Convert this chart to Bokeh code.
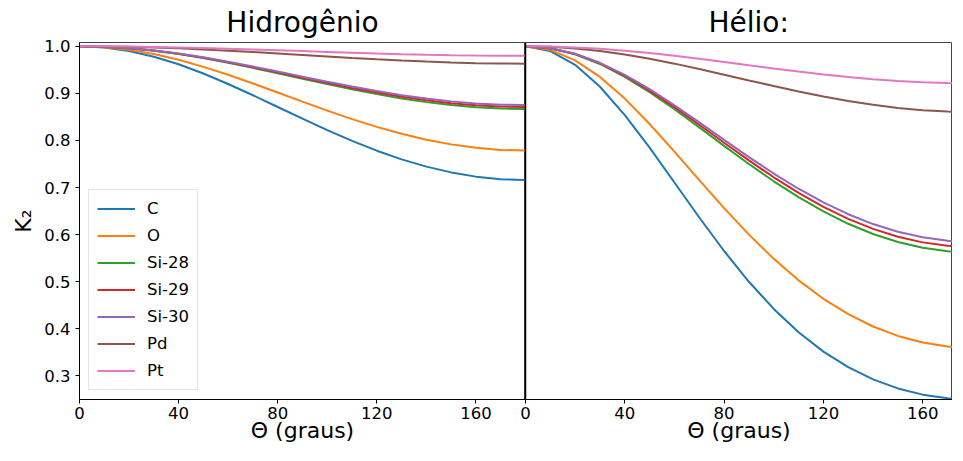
from bokeh.plotting import figure
from bokeh.models import Legend, LegendItem, FixedTicker, PrintfTickFormatter, Range1d
from bokeh.layouts import row
from bokeh.embed import file_html
from bokeh.resources import INLINE

theta = [0, 10, 20, 30, 40, 50, 60, 70, 80, 90, 100, 110, 120, 130, 140, 150, 160, 170, 180]
labels = ["C", "O", "Si-28", "Si-29", "Si-30", "Pd", "Pt"]
colors = ["#1f77b4", "#ff7f0e", "#2ca02c", "#d62728", "#9467bd", "#8c564b", "#e377c2"]
x_ticks = [0, 40, 80, 120, 160]
y_ticks = [0.3, 0.4, 0.5, 0.6, 0.7, 0.8, 0.9, 1.0]

# Hidrogênio
h_C = [1.0000, 0.9975, 0.9900, 0.9779, 0.9617, 0.9421, 0.9199, 0.8960, 0.8711, 0.8462, 0.8219, 0.7991, 0.7783, 0.7599, 0.7445, 0.7322, 0.7232, 0.7178, 0.7160]
h_O = [1.0000, 0.9981, 0.9925, 0.9834, 0.9712, 0.9563, 0.9394, 0.9210, 0.9018, 0.8824, 0.8634, 0.8454, 0.8288, 0.8141, 0.8017, 0.7917, 0.7844, 0.7800, 0.7785]
h_Si28 = [1.0000, 0.9989, 0.9957, 0.9905, 0.9834, 0.9748, 0.9649, 0.9541, 0.9427, 0.9310, 0.9196, 0.9086, 0.8984, 0.8892, 0.8814, 0.8752, 0.8706, 0.8678, 0.8668]
h_Si29 = [1.0000, 0.9990, 0.9958, 0.9908, 0.9840, 0.9757, 0.9661, 0.9556, 0.9446, 0.9333, 0.9222, 0.9116, 0.9017, 0.8928, 0.8853, 0.8792, 0.8747, 0.8720, 0.8711]
h_Si30 = [1.0000, 0.9990, 0.9960, 0.9911, 0.9845, 0.9765, 0.9672, 0.9571, 0.9464, 0.9355, 0.9247, 0.9144, 0.9048, 0.8962, 0.8889, 0.8830, 0.8787, 0.8760, 0.8751]
h_Pd = [1.0000, 0.9997, 0.9989, 0.9975, 0.9956, 0.9933, 0.9906, 0.9877, 0.9846, 0.9814, 0.9782, 0.9751, 0.9722, 0.9696, 0.9674, 0.9655, 0.9642, 0.9634, 0.9631]
h_Pt = [1.0000, 0.9998, 0.9994, 0.9986, 0.9976, 0.9963, 0.9949, 0.9933, 0.9916, 0.9898, 0.9880, 0.9863, 0.9847, 0.9833, 0.9821, 0.9811, 0.9803, 0.9799, 0.9797]

# Hélio
he_C = [1.0000, 0.9899, 0.9605, 0.9140, 0.8539, 0.7847, 0.7108, 0.6364, 0.5653, 0.5000, 0.4423, 0.3928, 0.3517, 0.3186, 0.2928, 0.2735, 0.2603, 0.2525, 0.2500]
he_O = [1.0000, 0.9924, 0.9702, 0.9350, 0.8889, 0.8349, 0.7762, 0.7157, 0.6563, 0.6000, 0.5486, 0.5030, 0.4638, 0.4312, 0.4050, 0.3850, 0.3710, 0.3627, 0.3600]
he_Si28 = [1.0000, 0.9957, 0.9829, 0.9624, 0.9352, 0.9027, 0.8663, 0.8278, 0.7886, 0.7500, 0.7133, 0.6795, 0.6493, 0.6231, 0.6015, 0.5845, 0.5723, 0.5649, 0.5625]
he_Si29 = [1.0000, 0.9958, 0.9835, 0.9637, 0.9374, 0.9059, 0.8707, 0.8333, 0.7951, 0.7576, 0.7218, 0.6888, 0.6592, 0.6335, 0.6123, 0.5956, 0.5836, 0.5763, 0.5739]
he_Si30 = [1.0000, 0.9960, 0.9840, 0.9649, 0.9394, 0.9089, 0.8747, 0.8384, 0.8013, 0.7647, 0.7298, 0.6975, 0.6685, 0.6434, 0.6225, 0.6061, 0.5943, 0.5872, 0.5848]
he_Pd = [1.0000, 0.9989, 0.9955, 0.9900, 0.9826, 0.9735, 0.9631, 0.9517, 0.9397, 0.9275, 0.9155, 0.9040, 0.8933, 0.8838, 0.8756, 0.8691, 0.8643, 0.8613, 0.8603]
he_Pt = [1.0000, 0.9994, 0.9975, 0.9945, 0.9905, 0.9855, 0.9797, 0.9734, 0.9667, 0.9598, 0.9530, 0.9464, 0.9403, 0.9348, 0.9301, 0.9263, 0.9235, 0.9218, 0.9212]

h_series = [h_C, h_O, h_Si28, h_Si29, h_Si30, h_Pd, h_Pt]
he_series = [he_C, he_O, he_Si28, he_Si29, he_Si30, he_Pd, he_Pt]

FONT = "DejaVu Sans"
TICK_SIZE = "16.5px"
LABEL_SIZE = "22px"
TITLE_SIZE = "28px"
Y_RANGE = (0.25, 1.008)


def style_x_axis(ax):
    ax.ticker = FixedTicker(ticks=x_ticks)
    ax.minor_tick_line_color = None
    ax.major_tick_in = 0
    ax.major_tick_out = 4
    ax.major_tick_line_color = "black"
    ax.axis_line_color = "black"
    ax.axis_line_width = 1
    ax.major_label_text_font = FONT
    ax.major_label_text_font_size = TICK_SIZE
    ax.major_label_text_color = "black"
    ax.major_label_standoff = 3
    ax.axis_label = "Θ (graus)"
    ax.axis_label_text_font = FONT
    ax.axis_label_text_font_size = LABEL_SIZE
    ax.axis_label_text_font_style = "normal"
    ax.axis_label_text_color = "black"
    ax.axis_label_standoff = -4


def style_title(p, text):
    p.title.text = text
    p.title.text_font = FONT
    p.title.text_font_size = TITLE_SIZE
    p.title.text_font_style = "normal"
    p.title.text_color = "black"
    p.title.standoff = 7


# Left panel
p1 = figure(width=517, height=445, output_backend="svg", toolbar_location=None,
            x_range=Range1d(0, 180), y_range=Range1d(*Y_RANGE),
            min_border_left=70, min_border_right=0, min_border_top=34, min_border_bottom=0)
p1.margin = (0, 0, 0, 8)
style_title(p1, "Hidrogênio")
p1.title.align = "center"
p1.grid.visible = False
p1.outline_line_color = "#444444"
p1.outline_line_width = 1
style_x_axis(p1.xaxis[0])
ya = p1.yaxis[0]
ya.ticker = FixedTicker(ticks=y_ticks)
ya.formatter = PrintfTickFormatter(format="%.1f")
ya.minor_tick_line_color = None
ya.major_tick_in = 0
ya.major_tick_out = 4
ya.axis_line_color = "black"
ya.major_label_text_font = FONT
ya.major_label_text_font_size = TICK_SIZE
ya.major_label_text_color = "black"
ya.major_label_standoff = 5
ya.axis_label = "K₂"
ya.axis_label_text_font = FONT
ya.axis_label_text_font_size = LABEL_SIZE
ya.axis_label_text_font_style = "normal"
ya.axis_label_text_color = "black"
ya.axis_label_standoff = 5

items = []
for lab, col, ys in zip(labels, colors, h_series):
    r = p1.line(theta, ys, line_color=col, line_width=2)
    items.append(LegendItem(label=lab, renderers=[r]))

legend = Legend(items=items, location="bottom_left")
legend.label_text_font = FONT
legend.label_text_font_size = TICK_SIZE
legend.label_text_color = "black"
legend.glyph_width = 38
legend.glyph_height = 21
legend.label_height = 21
legend.spacing = 6
legend.padding = 8
legend.margin = 9
legend.label_standoff = 12
legend.border_line_color = "#cccccc"
legend.border_line_width = 1
legend.background_fill_alpha = 0.8
p1.add_layout(legend)

# Right panel
p2 = figure(width=437, height=445, output_backend="svg", toolbar_location=None,
            x_range=Range1d(0, 172.0), y_range=Range1d(*Y_RANGE),
            min_border_left=10, min_border_right=0, min_border_top=34, min_border_bottom=0)
p2.margin = (0, 0, 0, -10)
style_title(p2, "Hélio:")
p2.title.align = "left"
p2.title.offset = 183
p2.grid.visible = False
p2.outline_line_color = "#444444"
p2.outline_line_width = 1
p2.border_fill_alpha = 0
p2.background_fill_alpha = 0
style_x_axis(p2.xaxis[0])
ya2 = p2.yaxis[0]
ya2.ticker = FixedTicker(ticks=[])
ya2.major_tick_out = 0
ya2.major_tick_in = 0
ya2.major_label_standoff = 0
ya2.minor_tick_line_color = None
ya2.axis_line_color = "black"
ya2.axis_line_width = 1.5

for lab, col, ys in zip(labels, colors, he_series):
    p2.line(theta, ys, line_color=col, line_width=2)

layout = row(p1, p2)
open("out.html", "w").write(file_html(layout, INLINE))
